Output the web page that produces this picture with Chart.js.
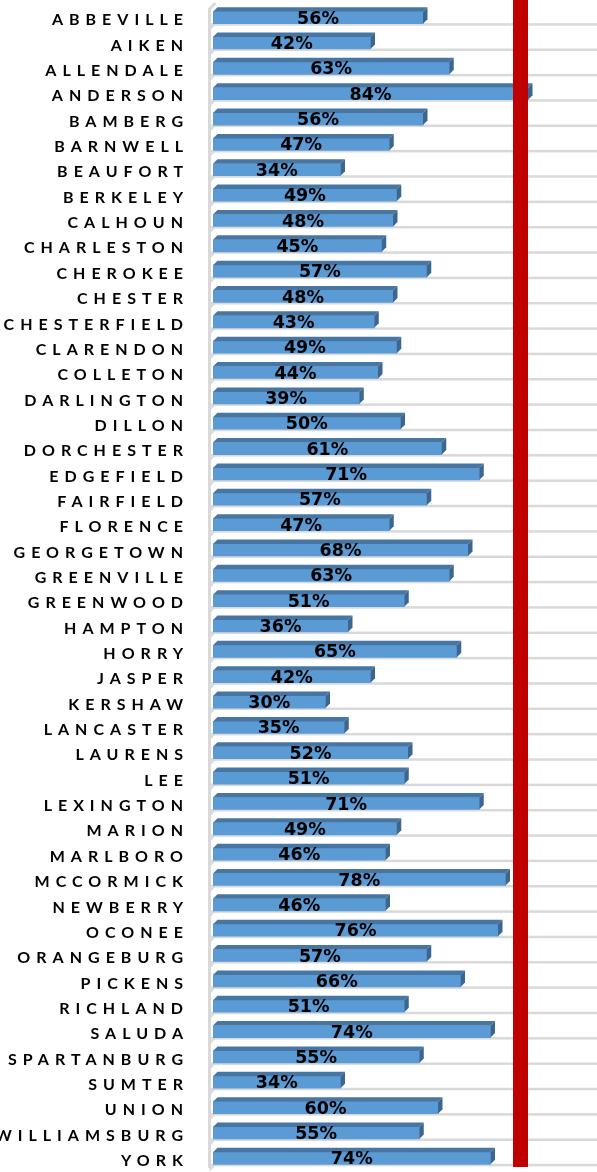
<!DOCTYPE html>
<html>
<head>
<meta charset="utf-8">
<script src="https://cdn.jsdelivr.net/npm/chart.js@4"></script>
<style>
  html, body { margin: 0; padding: 0; background: #fff; }
  #wrap { width: 597px; height: 1172px; position: relative; }
</style>
</head>
<body>
<div id="wrap"><canvas id="chart"></canvas></div>
<script>
const counties = [
  "ABBEVILLE", "AIKEN", "ALLENDALE", "ANDERSON", "BAMBERG", "BARNWELL", "BEAUFORT",
  "BERKELEY", "CALHOUN", "CHARLESTON", "CHEROKEE", "CHESTER", "CHESTERFIELD",
  "CLARENDON", "COLLETON", "DARLINGTON", "DILLON", "DORCHESTER", "EDGEFIELD",
  "FAIRFIELD", "FLORENCE", "GEORGETOWN", "GREENVILLE", "GREENWOOD", "HAMPTON",
  "HORRY", "JASPER", "KERSHAW", "LANCASTER", "LAURENS", "LEE", "LEXINGTON",
  "MARION", "MARLBORO", "MCCORMICK", "NEWBERRY", "OCONEE", "ORANGEBURG",
  "PICKENS", "RICHLAND", "SALUDA", "SPARTANBURG", "SUMTER", "UNION",
  "WILLIAMSBURG", "YORK"
];
const percents = [
  56, 42, 63, 84, 56, 47, 34,
  49, 48, 45, 57, 48, 43,
  49, 44, 39, 50, 61, 71,
  57, 47, 68, 63, 51, 36,
  65, 42, 30, 35, 52, 51, 71,
  49, 46, 78, 46, 76, 57,
  66, 51, 74, 55, 34, 60,
  55, 74
];
const targetLine = 82;

const DEPTH = 4.5;

// letter-spaced county names on the y axis
const spacing = {
  id: "spacing",
  beforeDraw(chart) { chart.ctx.letterSpacing = "6px"; },
  beforeDatasetsDraw(chart) { chart.ctx.letterSpacing = "0px"; }
};

// grey wall and floor lines behind the bars
const floor = {
  id: "floor",
  beforeDatasetsDraw(chart) {
    const ctx = chart.ctx;
    const bars = chart.getDatasetMeta(0).data;
    const wx = 209.5;
    ctx.save();
    ctx.fillStyle = "#d9d9d9";
    ctx.strokeStyle = "#d9d9d9";
    bars.forEach(b => {
      const bottom = b.y + b.height / 2;
      ctx.fillRect(wx, bottom - 0.5, chart.width - wx, 2.5);
      ctx.lineWidth = 2;
      ctx.beginPath();
      ctx.moveTo(wx, bottom + 6);
      ctx.lineTo(wx + 5, bottom + 0.5);
      ctx.stroke();
    });
    ctx.lineWidth = 3;
    ctx.beginPath();
    ctx.moveTo(wx, 1168);
    ctx.lineTo(wx, 9);
    ctx.lineTo(wx + 6, 3);
    ctx.stroke();
    ctx.restore();
  }
};

// 3D faces, target line and value labels
const faces = {
  id: "faces",
  afterDatasetsDraw(chart) {
    const ctx = chart.ctx;
    const bars = chart.getDatasetMeta(0).data;
    ctx.save();
    bars.forEach(b => {
      const top = b.y - b.height / 2, bottom = b.y + b.height / 2;
      ctx.fillStyle = "#4776a3";
      ctx.beginPath();
      ctx.moveTo(b.base, top);
      ctx.lineTo(b.base + DEPTH, top - DEPTH);
      ctx.lineTo(b.x + DEPTH, top - DEPTH);
      ctx.lineTo(b.x, top);
      ctx.closePath();
      ctx.fill();
      ctx.fillStyle = "#3b6690";
      ctx.beginPath();
      ctx.moveTo(b.x, top);
      ctx.lineTo(b.x + DEPTH, top - DEPTH);
      ctx.lineTo(b.x + DEPTH, bottom - DEPTH);
      ctx.lineTo(b.x, bottom);
      ctx.closePath();
      ctx.fill();
    });

    const rx = chart.scales.x.getPixelForValue(targetLine);
    ctx.fillStyle = "#c00000";
    ctx.fillRect(rx - 7.5, 0, 15, 1167);

    ctx.fillStyle = "#000";
    ctx.font = "bold 17.5px 'DejaVu Sans'";
    ctx.textAlign = "center";
    ctx.textBaseline = "middle";
    bars.forEach((b, i) => {
      ctx.fillText(percents[i] + "%", (b.base + b.x) / 2, b.y + 1.5);
    });
    ctx.restore();
  }
};

new Chart(document.getElementById("chart"), {
  type: "bar",
  data: {
    labels: counties,
    datasets: [
      {
        data: percents,
        backgroundColor: "#5b9bd5",
        borderWidth: 0,
        barThickness: 12,
      },
    ],
  },
  options: {
    indexAxis: "y",
    responsive: true,
    maintainAspectRatio: false,
    animation: false,
    layout: { padding: { top: 5, bottom: 1, right: 9, left: 0 } },
    plugins: { legend: { display: false }, tooltip: { enabled: false } },
    scales: {
      x: { display: false, min: 0, max: 100 },
      y: {
        grid: { display: false, drawTicks: false },
        border: { display: false },
        ticks: {
          color: "#000",
          font: { family: "Lato", weight: "bold", size: 16 },
          padding: 24,
          labelOffset: 2.5,
          autoSkip: false,
        },
        afterFit(scale) {
          scale.width = 213;
          scale.paddingTop = 0;
          scale.paddingBottom = 0;
        },
      },
    },
  },
  plugins: [spacing, floor, faces],
});
</script>
</body>
</html>
